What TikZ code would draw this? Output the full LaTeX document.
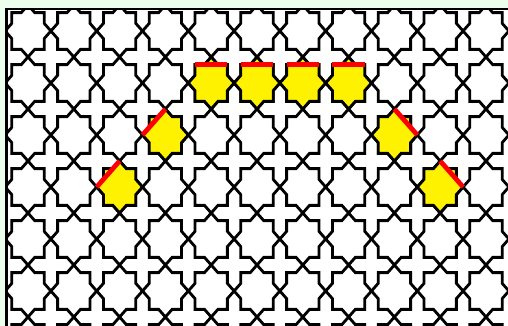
\documentclass[tikz,border=0pt]{standalone}
\definecolor{mint}{RGB}{236,255,236}
\begin{document}
\begin{tikzpicture}[x=0.025cm,y=-0.025cm,
  tile/.style={line width=2pt,line join=miter,draw=black},
  gold/.style={tile,fill=yellow},
  bar/.style={red,line width=3.4pt},
  octstar/.pic={\path[pic actions] (0:1) -- (22.5:0.7654) -- (45:1) -- (67.5:0.7654) -- (90:1) -- (112.5:0.7654) -- (135:1) -- (157.5:0.7654) -- (180:1) -- (202.5:0.7654) -- (225:1) -- (247.5:0.7654) -- (270:1) -- (292.5:0.7654) -- (315:1) -- (337.5:0.7654) -- cycle;}]
\useasboundingbox (0,0) rectangle (508,326);
\clip (0,0) rectangle (508,326);
\fill[mint] (0,0) rectangle (508,326);
\fill[white] (6.5,9) rectangle (520,340);
\begin{scope}
\clip (6.5,9) rectangle (520,340);
\foreach \i in {-1,...,11}
  \foreach \j in {-1,...,6}
    \pic[tile,xscale=22.9,yscale=26] at ({28+45.8*\i},{31+52*\j}) {octstar};
\foreach \i/\j in {4/1,5/1,6/1,7/1,3/2,8/2,2/3,9/3}
  \pic[gold,xscale=22.9,yscale=26] at ({28+45.8*\i},{31+52*\j}) {octstar};
\foreach \i/\j/\a/\b in {4/1/225/315,5/1/225/315,6/1/225/315,7/1/225/315,3/2/180/270,2/3/180/270,8/2/270/360,9/3/270/360}
  \draw[bar,shift={({28+45.8*\i},{31+52*\j})},xscale=22.9,yscale=26] (\a:1) -- (\b:1);
\end{scope}
\draw[line width=1.5pt] (6.5,340) -- (6.5,9) -- (520,9);
\end{tikzpicture}
\end{document}
